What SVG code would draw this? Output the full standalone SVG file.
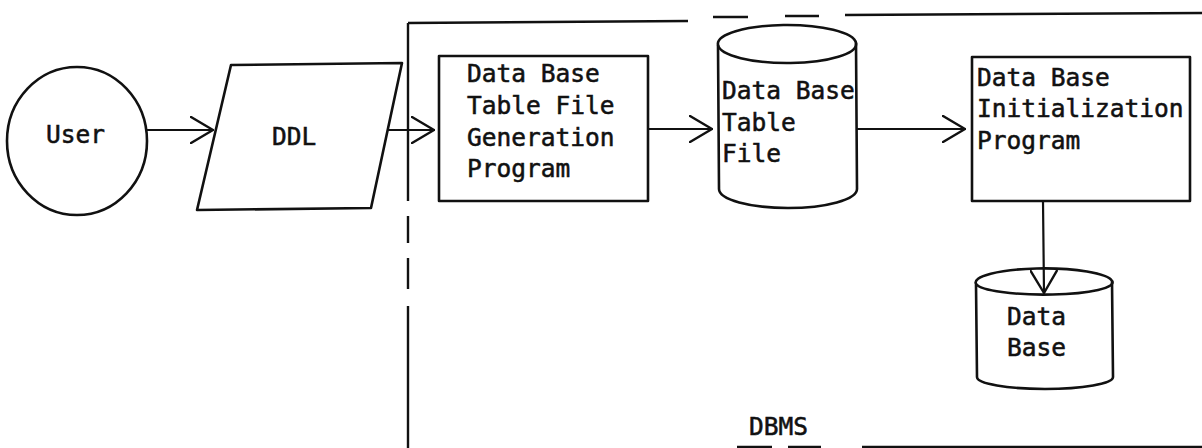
<svg xmlns="http://www.w3.org/2000/svg" width="1202" height="448" viewBox="0 0 1202 448">
  <style>
    .shape { fill: none; stroke: #111; stroke-width: 2.6; stroke-linejoin: round; }
    .line { fill: none; stroke: #111; stroke-width: 2.2; stroke-linecap: round; }
    .frame { fill: none; stroke: #111; stroke-width: 2.4; }
    .label { font-family: "DejaVu Sans Mono", "Liberation Mono", monospace; font-size: 24.5px; fill: #111; stroke: #111; stroke-width: 0.55; }
  </style>
  <defs>
    <marker id="open" viewBox="0 0 24 28" refX="23" refY="14" markerWidth="24" markerHeight="28" markerUnits="userSpaceOnUse" orient="auto">
      <path d="M1,1 L23,14 L1,27" fill="none" stroke="#111" stroke-width="2.4" stroke-linecap="round" stroke-linejoin="round"/>
    </marker>
  </defs>
  <rect width="1202" height="448" fill="#fff"/>

  <!-- DBMS boundary (partly dashed) -->
  <g id="dbms-boundary">
    <path class="frame" d="M408,23 L408,201 M408,216 L408,243 M408,258 L408,289 M408,306 L408,448"/>
    <path class="frame" d="M408,23 L688,21 M713,17 L748,17 M785,16 L819,16 M845,15 L1202,13"/>
    <path class="frame" d="M737,447 L772,447 M788,447 L821,447 M862,447 L1202,447"/>
    <text class="label" x="749" y="435">DBMS</text>
  </g>

  <g id="user">
    <ellipse class="shape" cx="77" cy="141" rx="70" ry="74"/>
    <text class="label" x="46" y="143">User</text>
  </g>

  <g id="ddl">
    <path class="shape" d="M231,65 L402,63 L371,208 L197,210 Z"/>
    <text class="label" x="272" y="145">DDL</text>
  </g>

  <g id="table-file-generation-program">
    <rect class="shape" x="439" y="56" width="209" height="145"/>
    <text class="label" x="467" y="82">Data Base</text>
    <text class="label" x="467" y="114">Table File</text>
    <text class="label" x="467" y="146">Generation</text>
    <text class="label" x="467" y="177">Program</text>
  </g>

  <g id="table-file">
    <path class="shape" d="M718,45 A69,19 0 0 1 856,43 L857,189 A69,19 0 0 1 719,189 Z"/>
    <path class="shape" d="M718,45 A69,19 0 0 0 856,43"/>
    <text class="label" x="722" y="99">Data Base</text>
    <text class="label" x="722" y="131">Table</text>
    <text class="label" x="722" y="162">File</text>
  </g>

  <g id="initialization-program">
    <rect class="shape" x="972" y="57" width="218" height="144"/>
    <text class="label" x="977" y="86">Data Base</text>
    <text class="label" x="977" y="117">Initialization</text>
    <text class="label" x="977" y="149">Program</text>
  </g>

  <g id="data-base">
    <path class="shape" d="M976,284 A68,14 0 0 1 1112,281 L1113,377 A68,12 0 0 1 977,377 Z"/>
    <path class="shape" d="M976,284 A68,12 0 0 0 1112,281"/>
    <text class="label" x="1007" y="325">Data</text>
    <text class="label" x="1007" y="356">Base</text>
  </g>

  <g id="connectors">
    <line class="line" x1="147" y1="130" x2="213" y2="130" marker-end="url(#open)"/>
    <line class="line" x1="388" y1="130" x2="434" y2="130" marker-end="url(#open)"/>
    <line class="line" x1="648" y1="129" x2="712" y2="129" marker-end="url(#open)"/>
    <line class="line" x1="857" y1="129" x2="965" y2="129" marker-end="url(#open)"/>
    <line class="line" x1="1043" y1="201" x2="1044" y2="293" marker-end="url(#open)"/>
  </g>
</svg>
